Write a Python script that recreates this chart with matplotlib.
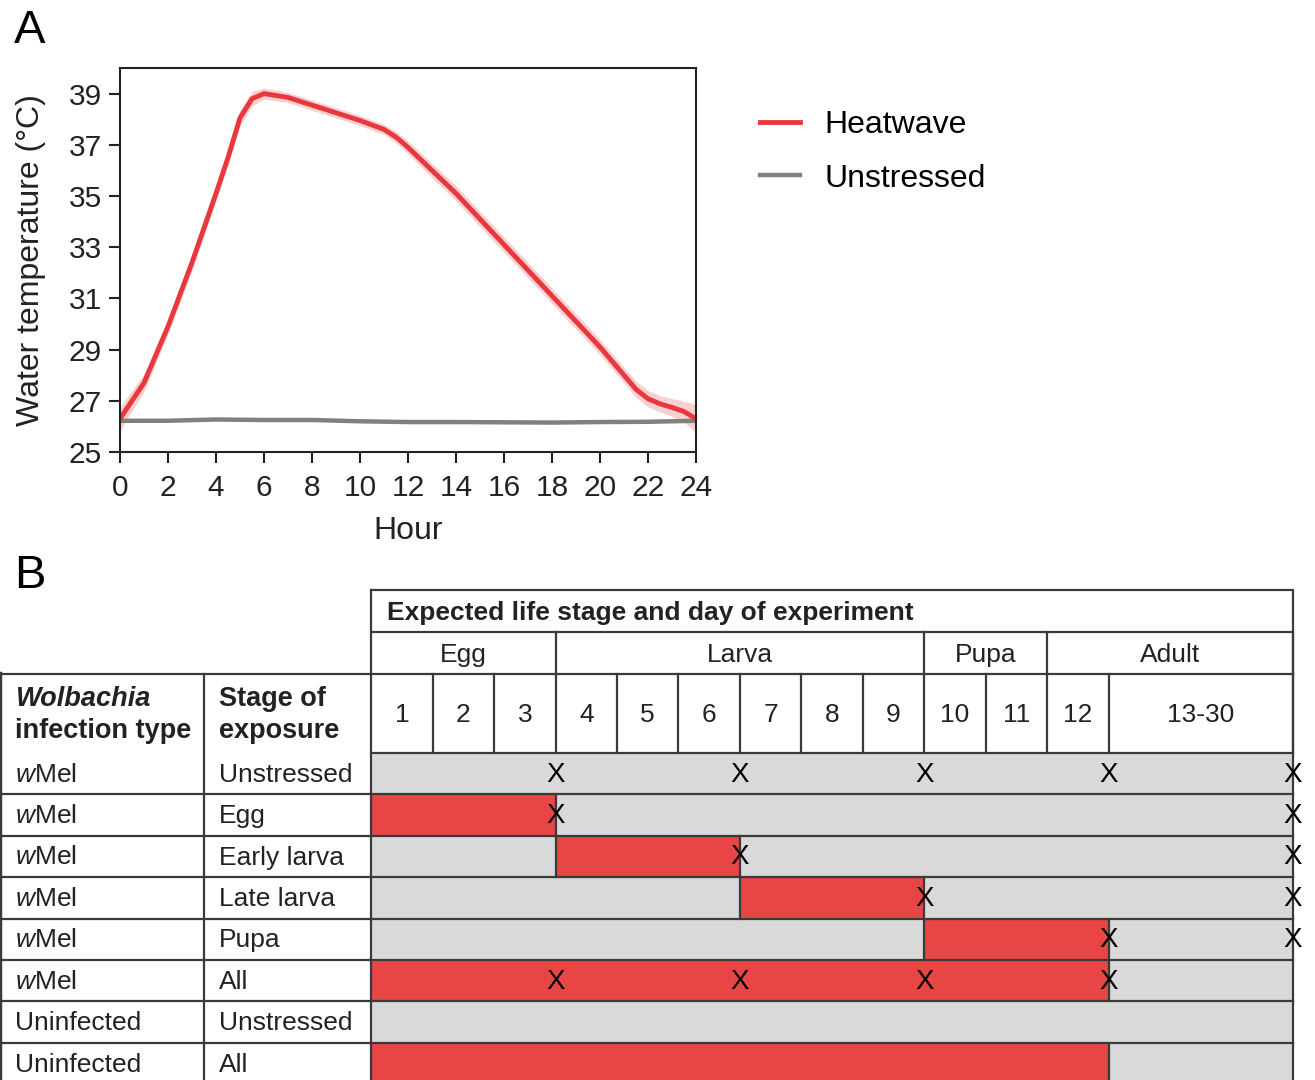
import matplotlib
matplotlib.use("Agg")
import matplotlib.pyplot as plt
from matplotlib.patches import Rectangle
import numpy as np

plt.rcParams['font.family'] = ['Liberation Sans', 'DejaVu Sans']
plt.rcParams['mathtext.fontset'] = 'custom'
plt.rcParams['mathtext.rm'] = 'Liberation Sans'
plt.rcParams['mathtext.it'] = 'Liberation Sans:italic'
plt.rcParams['mathtext.bf'] = 'Liberation Sans:bold'

# ---- panel A data ----
heat_hours = [0, 0.5, 1, 1.5, 2, 3, 4, 4.5, 5, 5.5, 6, 7, 8, 9, 10, 11, 11.5, 12,
              13, 14, 15, 16, 17, 18, 19, 20, 20.5, 21, 21.5, 22, 22.5, 23, 23.5, 24]
heat_temp = [26.3, 27.0, 27.7, 28.8, 29.9, 32.4, 35.1, 36.5, 38.05, 38.8, 39.0, 38.85,
             38.55, 38.25, 37.95, 37.6, 37.3, 36.9, 36.0, 35.1, 34.1, 33.1, 32.1, 31.1,
             30.1, 29.1, 28.55, 28.0, 27.45, 27.08, 26.88, 26.74, 26.58, 26.3]
heat_ci = [0.45, 0.4, 0.35, 0.3, 0.3, 0.3, 0.3, 0.3, 0.3, 0.28, 0.22, 0.2,
           0.2, 0.2, 0.2, 0.2, 0.22, 0.25, 0.28, 0.3, 0.3, 0.3, 0.3, 0.3,
           0.3, 0.3, 0.3, 0.3, 0.32, 0.32, 0.32, 0.35, 0.4, 0.55]

ctrl_hours = [0, 2, 4, 6, 8, 10, 12, 14, 16, 18, 20, 22, 24]
ctrl_temp = [26.22, 26.22, 26.27, 26.25, 26.25, 26.2, 26.17, 26.17, 26.16, 26.15, 26.17, 26.18, 26.22]

# ---- panel B data ----
stage_names = ['Egg', 'Larva', 'Pupa', 'Adult']
stage_days = [(1, 3), (4, 9), (10, 11), (12, 30)]
day_labels = ['1', '2', '3', '4', '5', '6', '7', '8', '9', '10', '11', '12', '13-30']
infection = ['wMel', 'wMel', 'wMel', 'wMel', 'wMel', 'wMel', 'Uninfected', 'Uninfected']
exposure = ['Unstressed', 'Egg', 'Early larva', 'Late larva', 'Pupa', 'All', 'Unstressed', 'All']
# heat stress window (first day, last day), None = no stress
stress = [None, (1, 3), (4, 6), (7, 9), (10, 12), (1, 12), None, (1, 12)]
# days at the end of which samples were taken (X)
samples = [[3, 6, 9, 12, 30], [3, 30], [6, 30], [9, 30], [12, 30], [3, 6, 9, 12], [], []]

RED = '#e84545'
GREY = '#d9d9d9'
LINE = '#3a3a3a'
TXT = '#222222'


def day_x(d):
    # right edge of a day column; days 13-30 share one wide column
    return d if d <= 12 else 12 + 3 * (d - 12) / 18


fig = plt.figure(figsize=(13.15, 10.8), dpi=100)

# ---------------- A ----------------
ax = fig.add_axes([120 / 1315, 628 / 1080, 576 / 1315, 384 / 1080])
lo = np.array(heat_temp) - np.array(heat_ci)
hi = np.array(heat_temp) + np.array(heat_ci)
ax.fill_between(heat_hours, lo, hi, color=RED, alpha=0.25, lw=0)
ax.plot(ctrl_hours, ctrl_temp, color='#808080', lw=3.2, label='Unstressed')
ax.plot(heat_hours, heat_temp, color='#e8383d', lw=3.5, label='Heatwave')
ax.set_xlim(0, 24)
ax.set_ylim(25, 40)
ax.set_xticks(range(0, 25, 2))
ax.set_yticks(range(25, 40, 2))
ax.tick_params(labelsize=21.5, width=1.5, length=8, color=TXT, labelcolor=TXT)
ax.tick_params(axis='x', pad=8)
ax.tick_params(axis='y', pad=5)
for s in ax.spines.values():
    s.set_linewidth(1.5)
    s.set_color(TXT)
ax.set_xlabel('Hour', fontsize=23, labelpad=10, color=TXT)
ax.set_ylabel('Water temperature (°C)', fontsize=23, labelpad=16, color=TXT)

h, l = ax.get_legend_handles_labels()
ax.legend([h[1], h[0]], [l[1], l[0]], loc='upper left', bbox_to_anchor=(760 / 1315, 1 - 110 / 1080),
          bbox_transform=fig.transFigure, frameon=False, fontsize=23, handlelength=1.25,
          handletextpad=0.78, labelspacing=0.74, borderpad=0, borderaxespad=0)

fig.text(14 / 1315, 1 - 9 / 1080, 'A', fontsize=34, va='top', ha='left', color='black')
fig.text(14 / 1315, 1 - 554 / 1080, 'B', fontsize=34, va='top', ha='left', color='black')

# ---------------- B ----------------
tb = fig.add_axes([0, 0, 1, 500 / 1080])
x_left = -371 / 61.42
x_right = 15 + 22 / 61.42
x_col2 = (204 - 371) / 61.42
tb.set_xlim(x_left, x_right)
tb.set_ylim(1080, 580)
tb.axis('off')

y_h1, y_h2, y_h3, y_data = 590, 632, 674, 753
row_h = 41.4
lw = 1.6
pad = 15 / 61.42

# header box
tb.plot([0, 15, 15, 0, 0], [y_h1, y_h1, y_data, y_data, y_h1], color=LINE, lw=lw, clip_on=False)
tb.plot([0, 15], [y_h2, y_h2], color=LINE, lw=lw)
tb.plot([x_left, 15], [y_h3, y_h3], color=LINE, lw=lw, clip_on=False)
tb.text(0.26, (y_h1 + y_h2) / 2 + 2, 'Expected life stage and day of experiment',
        fontsize=19, fontweight='bold', ha='left', va='center', color=TXT)
for name, (a, b) in zip(stage_names, stage_days):
    x0, x1 = day_x(a - 1), day_x(b)
    tb.plot([x1, x1], [y_h2, y_h3], color=LINE, lw=lw)
    tb.text((x0 + x1) / 2, (y_h2 + y_h3) / 2 + 2, name, fontsize=19, ha='center', va='center',
            color=TXT)
for i, lab in enumerate(day_labels):
    x0 = i
    x1 = i + 1 if i < 12 else 15
    tb.plot([x1, x1], [y_h3, y_data], color=LINE, lw=lw)
    tb.text((x0 + x1) / 2, (y_h3 + y_data) / 2 + 1, lab, fontsize=19, ha='center', va='center',
            color=TXT)

# left header
tb.plot([x_col2, x_col2], [y_h3, 1080], color=LINE, lw=lw)
tb.plot([x_left, x_left], [y_h3, 1080], color=LINE, lw=lw * 2, clip_on=True)
tb.text(x_left + pad, 699, 'Wolbachia', fontsize=19.5, fontweight='bold', fontstyle='italic',
        ha='left', va='center', color=TXT)
tb.text(x_left + pad, 731, 'infection type', fontsize=19.5, fontweight='bold',
        ha='left', va='center', color=TXT)
tb.text(x_col2 + pad, 699, 'Stage of', fontsize=19.5, fontweight='bold',
        ha='left', va='center', color=TXT)
tb.text(x_col2 + pad, 731, 'exposure', fontsize=19.5, fontweight='bold',
        ha='left', va='center', color=TXT)

# data rows
for r in range(len(exposure)):
    y0 = y_data + r * row_h
    yc = y0 + row_h / 2
    tb.add_patch(Rectangle((0, y0), 15, row_h, facecolor=GREY, edgecolor='none', zorder=1))
    if stress[r] is not None:
        a, b = stress[r]
        xa, xb = day_x(a - 1), day_x(b)
        tb.add_patch(Rectangle((xa, y0), xb - xa, row_h, facecolor=RED, edgecolor='none', zorder=2))
        for xv in (xa, xb):
            if 0 < xv < 15:
                tb.plot([xv, xv], [y0, y0 + row_h], color=LINE, lw=lw, zorder=3)
    tb.plot([x_left, 15], [y0 + row_h, y0 + row_h], color=LINE, lw=lw, zorder=3, clip_on=False)
    tb.plot([0, 0], [y0, y0 + row_h], color=LINE, lw=lw, zorder=3)
    tb.plot([15, 15], [y0, y0 + row_h], color=LINE, lw=lw, zorder=3)
    inf = infection[r]
    if inf == 'wMel':
        inf = r'$\mathit{w}$Mel'
    tb.text(x_left + pad, yc + 1, inf, fontsize=19, ha='left', va='center', color=TXT)
    tb.text(x_col2 + pad, yc + 1, exposure[r], fontsize=19, ha='left', va='center', color=TXT)
    for d in samples[r]:
        tb.text(day_x(d), yc + 1, 'X', fontsize=20, ha='center', va='center', color='black',
                zorder=4, clip_on=False)

fig.savefig('out.png', dpi=100)
